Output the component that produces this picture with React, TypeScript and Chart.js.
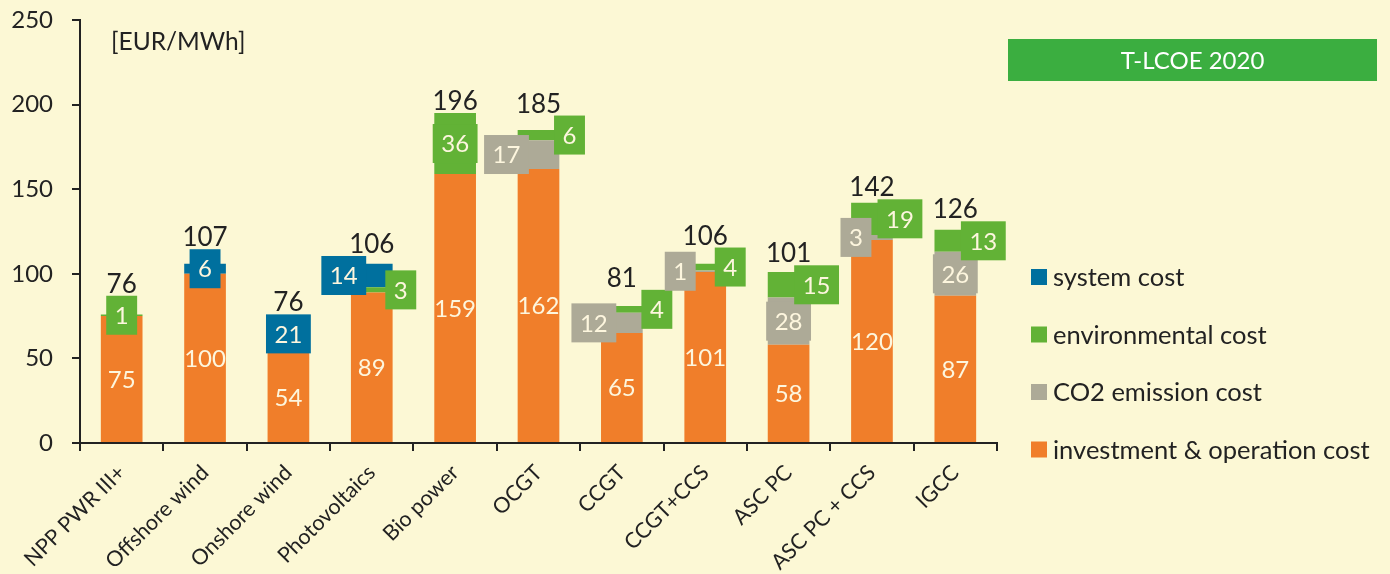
import React, { useEffect, useRef } from 'react';
import { Chart, registerables } from 'chart.js';

Chart.register(...registerables);

// ---------- data ----------
const categories = [
  'NPP PWR III+',
  'Offshore wind',
  'Onshore wind',
  'Photovoltaics',
  'Bio power',
  'OCGT',
  'CCGT',
  'CCGT+CCS',
  'ASC PC',
  'ASC PC + CCS',
  'IGCC',
];
const investmentCost = [75, 100, 54, 89, 159, 162, 65, 101, 58, 120, 87];
const co2Cost = [0, 0, 0, 0, 0, 17, 12, 1, 28, 3, 26];
const envCost = [1, 0, 0, 3, 36, 6, 4, 4, 15, 19, 13];
const systemCost = [0, 6, 21, 14, 0, 0, 0, 0, 0, 0, 0];
const totals = [76, 107, 76, 106, 196, 185, 81, 106, 101, 142, 126];
const seriesNames = [
  'investment & operation cost',
  'CO2 emission cost',
  'environmental cost',
  'system cost',
];
const yMin = 0;
const yMax = 250;
const yStep = 50;
const unitLabel = '[EUR/MWh]';
const titleText = 'T-LCOE 2020';

// ---------- styling / layout (not data) ----------
const COLORS = ['#F07E2A', '#ADAA97', '#62B236', '#00709E'];
const TITLE_GREEN = '#3BAE40';
const BG = '#FCF8D5';
const INK = '#222222';
const LABEL_INK = '#FDF6DE';
const FONT = 'Lato';
// horizontal shift (px) of each series' value box relative to the bar centre
const LABEL_DX = [
  [0, 0, 0, 0, 0, 0, 0, 0, 0, 0, 0],
  [0, 0, 0, 0, 0, -32, -28, -25, 0, -16, 0],
  [0, 0, 0, 29, 0, 31, 35, 25, 28, 28, 28],
  [0, 0, 0, -28, 0, 0, 0, 0, 0, 0, 0],
];

const bgPlugin = {
  id: 'bgFill',
  beforeDraw(chart: any) {
    const { ctx, width, height } = chart;
    ctx.save();
    ctx.fillStyle = BG;
    ctx.fillRect(0, 0, width, height);
    ctx.restore();
  },
};

const labelPlugin = {
  id: 'segLabels',
  afterDatasetsDraw(chart: any) {
    const ctx = chart.ctx;
    ctx.save();
    ctx.textAlign = 'center';
    for (let j = 0; j < categories.length; j++) {
      let top = Infinity;
      let cxBar = 0;
      for (let d = 0; d < chart.data.datasets.length; d++) {
        const ds = chart.data.datasets[d];
        const v = ds.data[j];
        const el = chart.getDatasetMeta(d).data[j];
        cxBar = el.x;
        if (!v) continue;
        top = Math.min(top, el.y);
        const cy = (el.y + el.base) / 2;
        const txt = String(v);
        ctx.font = `24px ${FONT}`;
        ctx.textBaseline = 'middle';
        if (d === 0) {
          ctx.fillStyle = LABEL_INK;
          ctx.fillText(txt, el.x, cy + 1);
        } else {
          const w = ctx.measureText(txt).width + 17;
          const h = 39;
          const cx = el.x + LABEL_DX[d][j];
          ctx.fillStyle = ds.backgroundColor;
          ctx.fillRect(cx - w / 2, cy - h / 2, w, h);
          top = Math.min(top, cy - h / 2);
          ctx.fillStyle = LABEL_INK;
          ctx.fillText(txt, cx, cy + 1);
        }
      }
      ctx.font = `26px ${FONT}`;
      ctx.textBaseline = 'alphabetic';
      ctx.fillStyle = INK;
      ctx.fillText(String(totals[j]), cxBar, top - 3);
    }
    ctx.restore();
  },
};

const decorPlugin = {
  id: 'decor',
  afterDraw(chart: any) {
    const ctx = chart.ctx;
    ctx.save();
    // unit label
    ctx.font = `24.5px ${FONT}`;
    ctx.fillStyle = INK;
    ctx.textAlign = 'left';
    ctx.textBaseline = 'middle';
    ctx.fillText(unitLabel, 111, 42);
    // title box
    ctx.fillStyle = TITLE_GREEN;
    ctx.fillRect(1008, 39, 369, 42);
    ctx.fillStyle = '#FFFFFF';
    ctx.font = `24px ${FONT}`;
    ctx.textAlign = 'center';
    ctx.fillText(titleText, 1008 + 369 / 2, 61);
    // legend (reverse stacking order)
    ctx.textAlign = 'left';
    ctx.font = `25.5px ${FONT}`;
    const order = [3, 2, 1, 0];
    order.forEach((d, i) => {
      const y = 277 + i * 57.5;
      ctx.fillStyle = COLORS[d];
      ctx.fillRect(1031, y - 8, 16, 16);
      ctx.fillStyle = INK;
      ctx.fillText(seriesNames[d], 1053, y + 1);
    });
    ctx.restore();
  },
};

export default function App() {
  const canvasRef = useRef<HTMLCanvasElement | null>(null);

  useEffect(() => {
    document.body.style.margin = '0';
    document.body.style.background = BG;
    let chart: Chart | null = null;
    let cancelled = false;

    const build = () => {
      if (cancelled || !canvasRef.current) return;
      const seriesData = [investmentCost, co2Cost, envCost, systemCost];
      chart = new Chart(canvasRef.current, {
        type: 'bar',
        data: {
          labels: categories,
          datasets: seriesData.map((arr, i) => ({
            label: seriesNames[i],
            data: arr,
            backgroundColor: COLORS[i],
            borderWidth: 0,
            barPercentage: 0.5,
            categoryPercentage: 1,
          })),
        },
        options: {
          responsive: false,
          animation: false,
          events: [],
          layout: { padding: { top: 20, right: 393, left: 0, bottom: 0 } },
          plugins: {
            legend: { display: false },
            title: { display: false },
            tooltip: { enabled: false },
          },
          scales: {
            x: {
              stacked: true,
              grid: {
                display: true,
                drawOnChartArea: false,
                drawTicks: true,
                tickLength: 8,
                color: INK,
                lineWidth: 2,
                offset: true,
              },
              border: { display: true, color: INK, width: 2 },
              ticks: {
                minRotation: 45,
                maxRotation: 45,
                autoSkip: false,
                padding: 9,
                color: INK,
                font: { family: FONT, size: 21.5 },
              },
              afterFit: (s: any) => {
                s.height = 131;
                s.paddingTop = 0;
                s.paddingBottom = 0;
                s.paddingLeft = 0;
                s.paddingRight = 0;
              },
            },
            y: {
              stacked: true,
              min: yMin,
              max: yMax,
              grid: {
                display: true,
                drawOnChartArea: false,
                drawTicks: true,
                tickLength: 8,
                color: INK,
                lineWidth: 2,
              },
              border: { display: true, color: INK, width: 2 },
              ticks: {
                stepSize: yStep,
                padding: 19,
                color: INK,
                font: { family: FONT, size: 24 },
              },
              afterFit: (s: any) => {
                s.width = 80;
                s.paddingTop = 0;
                s.paddingBottom = 0;
              },
            },
          },
        },
        plugins: [bgPlugin, labelPlugin, decorPlugin],
      });
    };

    const fontsReady = (document as any).fonts
      ? Promise.all([
          (document as any).fonts.load(`20px ${FONT}`),
          (document as any).fonts.load(`24px ${FONT}`),
        ]).catch(() => null)
      : Promise.resolve(null);
    fontsReady.then(build);

    return () => {
      cancelled = true;
      if (chart) chart.destroy();
    };
  }, []);

  return (
    <div style={{ width: 1390, height: 574, position: 'relative', background: BG }}>
      <canvas ref={canvasRef} width={1390} height={574} style={{ display: 'block' }} />
    </div>
  );
}
